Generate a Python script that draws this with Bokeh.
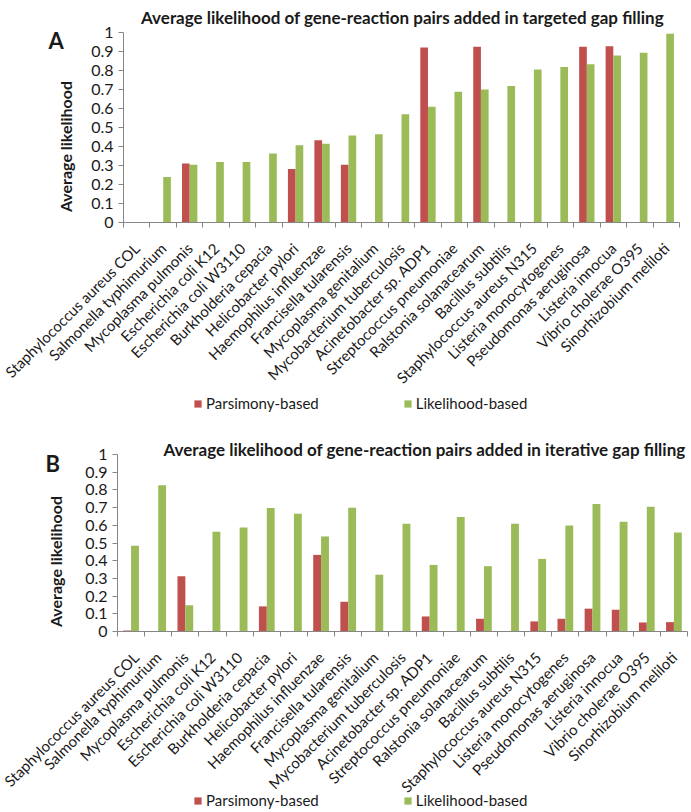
import math
from bokeh.plotting import figure
from bokeh.models import (ColumnDataSource, Range1d, FixedTicker, NumeralTickFormatter,
                          Label, Legend, LegendItem)
from bokeh.layouts import column
from bokeh.transform import dodge
from bokeh.embed import file_html
from bokeh.resources import INLINE

organisms = [
    "Staphylococcus aureus COL", "Salmonella typhimurium", "Mycoplasma pulmonis",
    "Escherichia coli K12", "Escherichia coli W3110", "Burkholderia cepacia",
    "Helicobacter pylori", "Haemophilus influenzae", "Francisella tularensis",
    "Mycoplasma genitalium", "Mycobacterium tuberculosis", "Acinetobacter sp. ADP1",
    "Streptococcus pneumoniae", "Ralstonia solanacearum", "Bacillus subtilis",
    "Staphylococcus aureus N315", "Listeria monocytogenes", "Pseudomonas aeruginosa",
    "Listeria innocua", "Vibrio cholerae O395", "Sinorhizobium meliloti",
]

# Panel A: targeted gap filling
targeted_parsimony = [0, 0, 0.311, 0, 0, 0, 0.281, 0.433, 0.304, 0, 0, 0.921, 0,
                      0.925, 0, 0, 0, 0.925, 0.928, 0, 0]
targeted_likelihood = [0, 0.240, 0.304, 0.319, 0.319, 0.363, 0.407, 0.414, 0.458,
                       0.465, 0.570, 0.609, 0.688, 0.700, 0.719, 0.805, 0.818,
                       0.833, 0.879, 0.893, 0.993]

# Panel B: iterative gap filling
iterative_parsimony = [0.005, 0, 0.312, 0, 0, 0.142, 0, 0.433, 0.168, 0, 0, 0.085,
                       0, 0.072, 0, 0.057, 0.072, 0.129, 0.123, 0.051, 0.053]
iterative_likelihood = [0.484, 0.826, 0.149, 0.563, 0.588, 0.698, 0.665, 0.537,
                        0.699, 0.321, 0.609, 0.376, 0.647, 0.369, 0.609, 0.410,
                        0.599, 0.720, 0.620, 0.705, 0.560]

y_ticks = [0, 0.1, 0.2, 0.3, 0.4, 0.5, 0.6, 0.7, 0.8, 0.9, 1.0]
series_names = ["Parsimony-based", "Likelihood-based"]
y_title = "Average likelihood"
RED = "#C0504D"
GREEN = "#9BBB59"
AXIS = "#868686"
TEXT = "#1a1a1a"
FONT = "Lato"
BAR_W = 0.29
FIG_W = 690


def make_panel(letter, title, pars, lik, height, px0, px1, py0, py1,
               title_x, title_base, letter_x, letter_base, ylab_x, ylab_y,
               legend_x, legend_cy):
    """px0/px1: pixel x of data x=0 / x=n; py0/py1: pixel y (from top) of y=0 / y=1."""
    n = len(organisms)
    ux = (px1 - px0) / n
    uy = (py0 - py1)
    x_range = Range1d(-px0 / ux, n + (FIG_W - px1) / ux)
    y_range = Range1d(-(height - py0) / uy, 1 + py1 / uy)

    centers = [i + 0.5 for i in range(n)]
    src = ColumnDataSource(dict(x=centers, pars=pars, lik=lik))
    p = figure(width=FIG_W, height=height, x_range=x_range, y_range=y_range,
               output_backend="svg", toolbar_location=None, title=None,
               min_border=0, min_border_left=0, min_border_right=0,
               min_border_top=0, min_border_bottom=0)
    p.outline_line_color = None
    p.xgrid.visible = False
    p.ygrid.visible = False
    p.background_fill_color = "white"
    p.border_fill_color = "white"

    r1 = p.vbar(x=dodge("x", -BAR_W / 2), top="pars", width=BAR_W, source=src,
                fill_color=RED, line_color=None)
    r2 = p.vbar(x=dodge("x", BAR_W / 2), top="lik", width=BAR_W, source=src,
                fill_color=GREEN, line_color=None)

    # y axis, pinned at x = 0
    ya = p.yaxis[0]
    ya.fixed_location = 0
    ya.bounds = (0, 1)
    ya.ticker = FixedTicker(ticks=y_ticks)
    ya.formatter = NumeralTickFormatter(format="0.[0]")
    ya.axis_line_color = AXIS
    ya.major_tick_line_color = AXIS
    ya.major_tick_out = 5
    ya.major_tick_in = 0
    ya.minor_tick_line_color = None
    ya.major_label_text_font = FONT
    ya.major_label_text_font_size = "16px"
    ya.major_label_text_color = TEXT
    ya.major_label_standoff = 5

    # x axis, pinned at y = 0: labels at category centres, ticks at boundaries
    xa = p.xaxis[0]
    xa.fixed_location = 0
    xa.bounds = (0, n)
    xa.ticker = FixedTicker(ticks=centers, minor_ticks=list(range(n + 1)))
    xa.major_label_overrides = {c: name for c, name in zip(centers, organisms)}
    xa.major_label_orientation = math.pi / 4
    xa.major_tick_line_color = None
    xa.minor_tick_line_color = AXIS
    xa.minor_tick_out = 5
    xa.minor_tick_in = 0
    xa.axis_line_color = AXIS
    xa.major_label_text_font = FONT
    xa.major_label_text_font_size = "15px"
    xa.major_label_text_color = TEXT
    xa.major_label_standoff = 17

    # screen units are measured from the frame's bottom-left corner
    p.add_layout(Label(x=title_x, y=height - title_base, x_units="screen", y_units="screen",
                       text=title, text_font=FONT, text_font_size="17px",
                       text_font_style="bold", text_align="center",
                       text_baseline="alphabetic", text_color=TEXT))
    p.add_layout(Label(x=letter_x, y=height - letter_base, x_units="screen", y_units="screen",
                       text=letter, text_font=FONT, text_font_size="22px",
                       text_font_style="bold", text_align="left",
                       text_baseline="alphabetic", text_color=TEXT))
    p.add_layout(Label(x=ylab_x, y=height - ylab_y, x_units="screen", y_units="screen",
                       text=y_title, text_font=FONT, text_font_size="16px",
                       text_font_style="bold", text_align="center", angle=math.pi / 2,
                       text_baseline="middle", text_color=TEXT))

    legend = Legend(items=[LegendItem(label=series_names[0], renderers=[r1]),
                           LegendItem(label=series_names[1], renderers=[r2])],
                    location=(legend_x, height - legend_cy - 10), orientation="horizontal",
                    glyph_width=9, glyph_height=9, label_standoff=4, spacing=84,
                    padding=0, margin=0, border_line_color=None,
                    background_fill_alpha=0, label_text_font=FONT,
                    label_text_font_size="15px", label_height=20,
                    label_text_color=TEXT)
    p.add_layout(legend, "center")
    return p


pa = make_panel("A", "Average likelihood of gene-reaction pairs added in targeted gap filling",
                targeted_parsimony, targeted_likelihood, height=430,
                px0=123, px1=679, py0=222, py1=32,
                title_x=402, title_base=17, letter_x=48, letter_base=40,
                ylab_x=65, ylab_y=146, legend_x=193, legend_cy=403)

pb = make_panel("B", "Average likelihood of gene-reaction pairs added in iterative gap filling",
                iterative_parsimony, iterative_likelihood, height=380,
                px0=117, px1=687, py0=201, py1=24,
                title_x=424, title_base=19, letter_x=45, letter_base=33,
                ylab_x=55, ylab_y=131, legend_x=193, legend_cy=370)

layout = column(pa, pb, spacing=0)
open("out.html", "w").write(file_html(layout, INLINE))
